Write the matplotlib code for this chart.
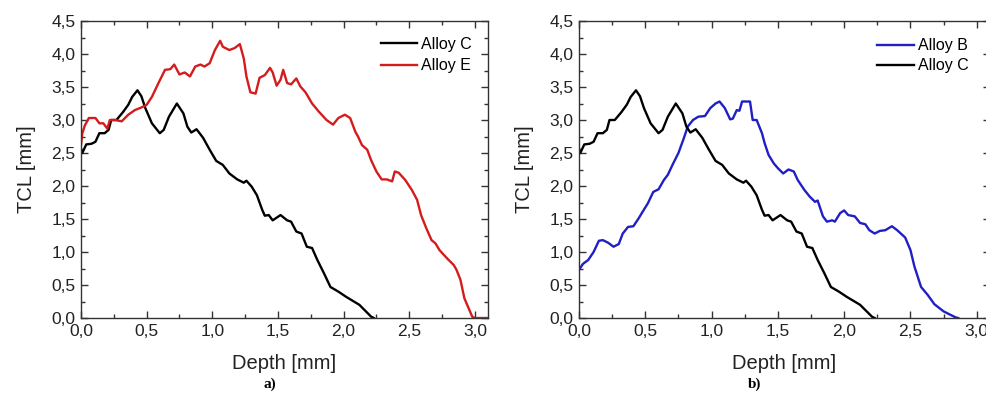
import numpy as np
import matplotlib
matplotlib.use("Agg")
import matplotlib.pyplot as plt
from matplotlib.ticker import MultipleLocator, FuncFormatter

# Alloy C (black, both panels)
depth_c = [0.00, 0.01, 0.04, 0.08, 0.11, 0.14, 0.18, 0.21, 0.23, 0.27, 0.32, 0.36,
           0.39, 0.43, 0.46, 0.49, 0.54, 0.60, 0.63, 0.67, 0.73, 0.78, 0.81, 0.84,
           0.88, 0.93, 0.98, 1.03, 1.08, 1.13, 1.19, 1.24, 1.26, 1.30, 1.34, 1.38,
           1.40, 1.43, 1.46, 1.52, 1.57, 1.60, 1.64, 1.68, 1.72, 1.76, 1.80, 1.85,
           1.90, 1.96, 2.02, 2.12, 2.21, 2.23]
tcl_c = [2.57, 2.50, 2.63, 2.64, 2.67, 2.80, 2.80, 2.85, 3.00, 3.00, 3.12, 3.23,
         3.35, 3.45, 3.36, 3.18, 2.95, 2.80, 2.85, 3.05, 3.25, 3.10, 2.90, 2.81,
         2.86, 2.73, 2.55, 2.38, 2.32, 2.19, 2.10, 2.05, 2.08, 1.99, 1.86, 1.64,
         1.55, 1.56, 1.48, 1.56, 1.48, 1.46, 1.31, 1.28, 1.08, 1.06, 0.88, 0.68,
         0.47, 0.40, 0.32, 0.20, 0.02, 0.00]

# Alloy E (red, panel a)
depth_e = [0.00, 0.01, 0.03, 0.06, 0.11, 0.14, 0.17, 0.20, 0.22, 0.26, 0.31, 0.36,
           0.41, 0.46, 0.50, 0.54, 0.59, 0.64, 0.68, 0.71, 0.75, 0.79, 0.83, 0.87,
           0.91, 0.94, 0.98, 1.02, 1.06, 1.08, 1.13, 1.17, 1.21, 1.24, 1.26, 1.29,
           1.33, 1.36, 1.40, 1.44, 1.46, 1.49, 1.52, 1.54, 1.57, 1.60, 1.64, 1.67,
           1.71, 1.76, 1.81, 1.87, 1.92, 1.96, 2.01, 2.05, 2.09, 2.11, 2.14, 2.18,
           2.21, 2.25, 2.29, 2.33, 2.37, 2.39, 2.42, 2.47, 2.52, 2.56, 2.59, 2.63,
           2.67, 2.70, 2.73, 2.79, 2.84, 2.86, 2.89, 2.92, 2.98, 3.00, 3.10]
tcl_e = [2.62, 2.80, 2.92, 3.03, 3.03, 2.95, 2.95, 2.87, 3.00, 3.00, 2.98, 3.08,
         3.15, 3.19, 3.23, 3.35, 3.56, 3.76, 3.77, 3.84, 3.69, 3.72, 3.66, 3.81,
         3.84, 3.81, 3.86, 4.06, 4.20, 4.11, 4.06, 4.09, 4.15, 3.93, 3.66, 3.42,
         3.40, 3.64, 3.68, 3.79, 3.72, 3.52, 3.61, 3.76, 3.56, 3.54, 3.63, 3.51,
         3.42, 3.25, 3.13, 3.00, 2.93, 3.03, 3.08, 3.03, 2.82, 2.75, 2.62, 2.55,
         2.39, 2.22, 2.10, 2.10, 2.07, 2.22, 2.20, 2.09, 1.94, 1.79, 1.56, 1.36,
         1.18, 1.13, 1.03, 0.90, 0.80, 0.73, 0.58, 0.30, 0.02, 0.00, 0.00]

# Alloy B (blue, panel b)
depth_b = [0.00, 0.01, 0.03, 0.07, 0.11, 0.15, 0.18, 0.22, 0.26, 0.30, 0.33, 0.37,
           0.41, 0.45, 0.48, 0.52, 0.56, 0.60, 0.64, 0.67, 0.71, 0.75, 0.79, 0.82,
           0.86, 0.90, 0.95, 0.99, 1.03, 1.06, 1.10, 1.14, 1.16, 1.19, 1.21, 1.23,
           1.29, 1.31, 1.34, 1.38, 1.40, 1.43, 1.47, 1.50, 1.54, 1.58, 1.62, 1.65,
           1.70, 1.74, 1.78, 1.80, 1.84, 1.87, 1.91, 1.93, 1.97, 2.00, 2.03, 2.08,
           2.12, 2.16, 2.19, 2.23, 2.27, 2.31, 2.36, 2.40, 2.46, 2.50, 2.53, 2.58,
           2.63, 2.68, 2.75, 2.80, 2.84, 2.86]
tcl_b = [0.73, 0.76, 0.82, 0.88, 1.00, 1.17, 1.18, 1.14, 1.08, 1.12, 1.28, 1.38,
         1.39, 1.51, 1.61, 1.74, 1.91, 1.95, 2.09, 2.17, 2.34, 2.50, 2.72, 2.90,
         3.00, 3.05, 3.06, 3.18, 3.25, 3.28, 3.18, 3.01, 3.02, 3.15, 3.14, 3.28,
         3.28, 3.00, 3.00, 2.80, 2.65, 2.47, 2.34, 2.27, 2.19, 2.25, 2.22, 2.09,
         1.94, 1.84, 1.76, 1.78, 1.54, 1.46, 1.48, 1.46, 1.59, 1.63, 1.56, 1.54,
         1.44, 1.42, 1.33, 1.28, 1.32, 1.33, 1.39, 1.33, 1.22, 1.03, 0.78, 0.47,
         0.35, 0.21, 0.10, 0.05, 0.01, 0.00]

RED = "#d41c1c"
BLUE = "#1f1fc4"

plt.rcParams['font.family'] = ['Liberation Sans', 'DejaVu Sans']

fig = plt.figure(figsize=(9.86, 4.0), dpi=100)
ax1 = fig.add_axes([81 / 986, 82 / 400, 407 / 986, 297 / 400])
ax2 = fig.add_axes([579 / 986, 82 / 400, 411 / 986, 297 / 400])

comma = FuncFormatter(lambda v, p: f"{v:.1f}".replace('.', ','))


def style(ax):
    ax.set_xlim(0, 3.1)
    ax.set_ylim(0, 4.5)
    ax.xaxis.set_major_locator(MultipleLocator(0.5))
    ax.xaxis.set_minor_locator(MultipleLocator(0.25))
    ax.yaxis.set_major_locator(MultipleLocator(0.5))
    ax.yaxis.set_minor_locator(MultipleLocator(0.25))
    ax.xaxis.set_major_formatter(comma)
    ax.yaxis.set_major_formatter(comma)
    ax.tick_params(which='both', direction='in', top=True, right=True,
                   color='#333333', width=1.0)
    ax.tick_params(which='major', length=5, labelsize=12.5, pad=4,
                   labelcolor='#222222')
    ax.tick_params(which='minor', length=3)
    for s in ax.spines.values():
        s.set_color('#333333')
        s.set_linewidth(1.0)
    ax.set_xlabel('Depth [mm]', fontsize=14.5, color='#222222', labelpad=11)
    ax.set_ylabel('TCL [mm]', fontsize=14.5, color='#222222', labelpad=11)


ax1.plot(depth_c, tcl_c, color='black', lw=1.7, label='Alloy C')
ax1.plot(depth_e, tcl_e, color=RED, lw=1.7, label='Alloy E')
style(ax1)
ax1.legend(loc='upper right', frameon=False, fontsize=11.5, handlelength=2.3,
           handletextpad=0.25, labelspacing=0.4, borderaxespad=0.6)

ax2.plot(depth_b, tcl_b, color=BLUE, lw=1.7, label='Alloy B')
ax2.plot(depth_c, tcl_c, color='black', lw=1.7, label='Alloy C')
style(ax2)
ax2.legend(loc='upper left', bbox_to_anchor=(0.69, 0.99), frameon=False,
           fontsize=11.5, handlelength=2.3, handletextpad=0.25,
           labelspacing=0.3)

fig.text(270 / 986, 1 - 384 / 400, 'a)', ha='center', va='center',
         family='Liberation Serif', weight='bold', fontsize=11)
fig.text(755 / 986, 1 - 384 / 400, 'b)', ha='center', va='center',
         family='Liberation Serif', weight='bold', fontsize=11)

fig.savefig('out.png', dpi=100)
